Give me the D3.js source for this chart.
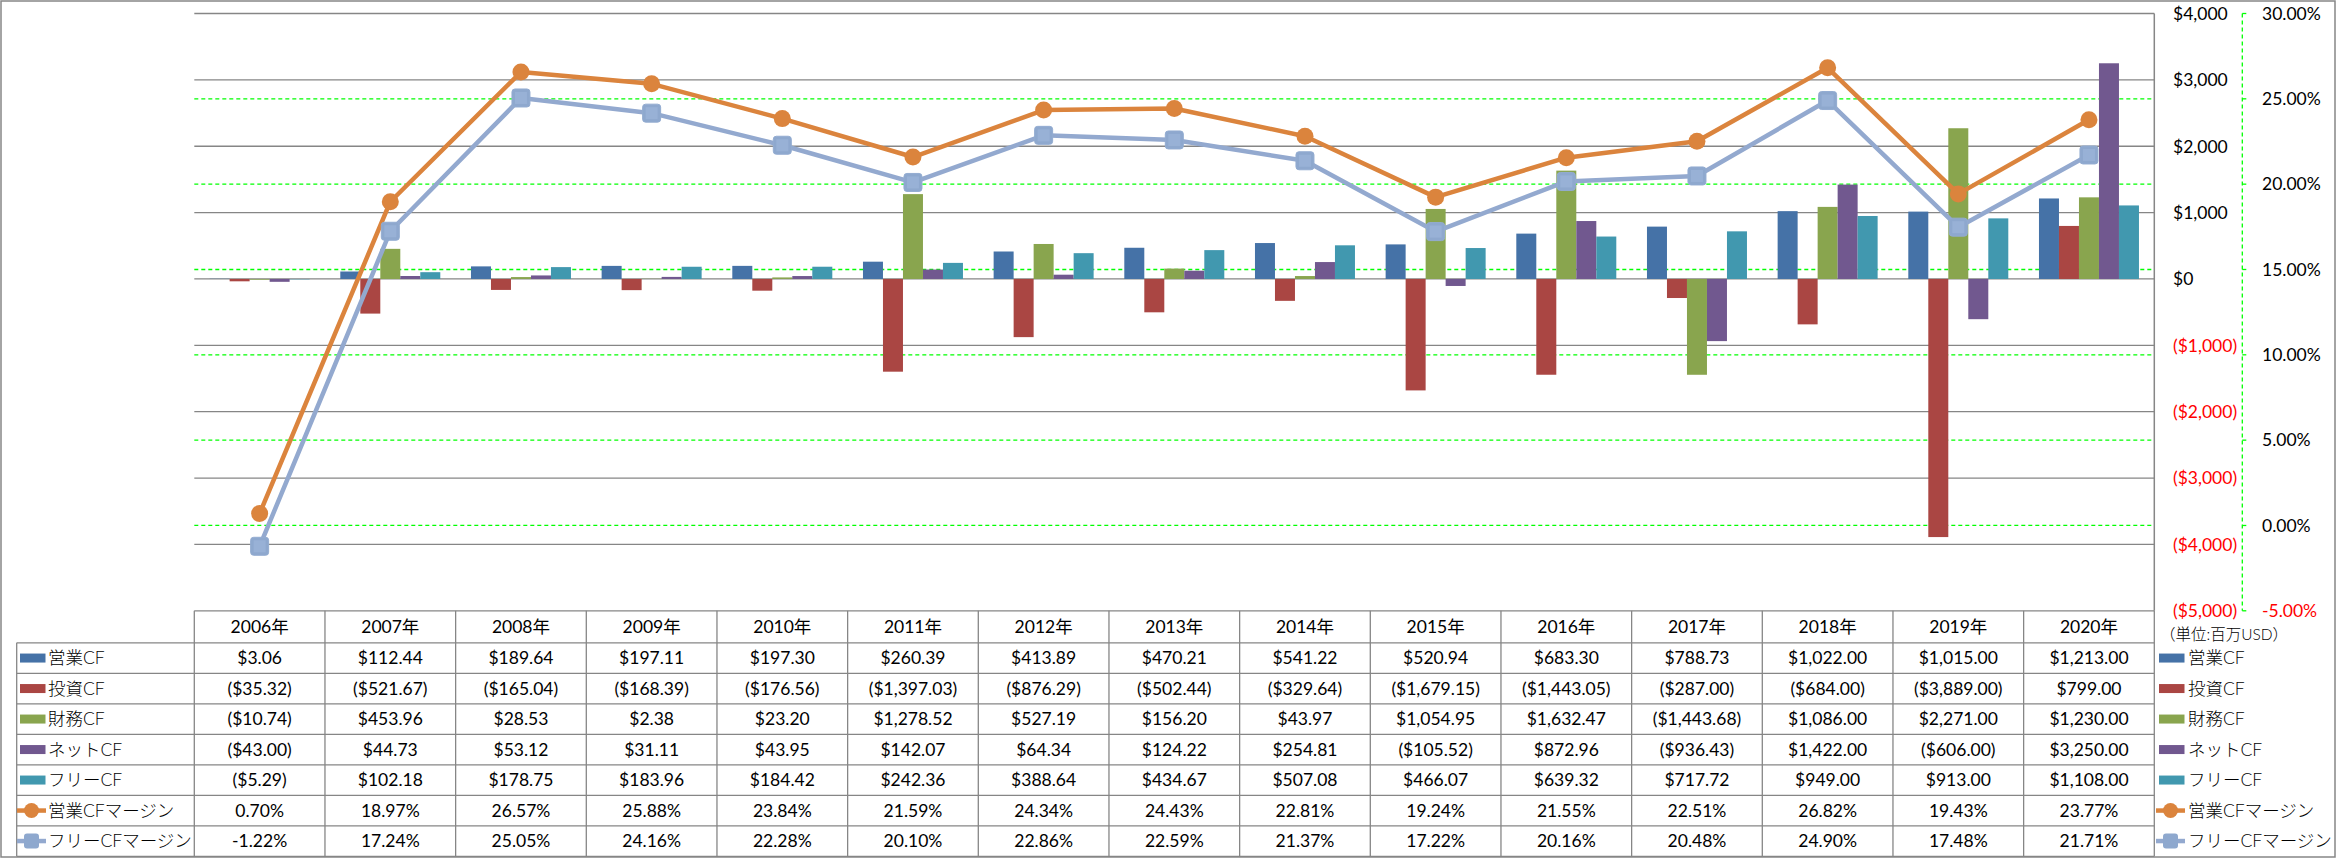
<!DOCTYPE html>
<html><head><meta charset="utf-8">
<script src="https://cdn.jsdelivr.net/npm/d3@7"></script>
<style>
html,body{margin:0;padding:0;background:#fff;}
svg{display:block;}
text{font-family:Lato,"Noto Sans CJK JP",sans-serif;}
</style></head>
<body>
<svg id="c" width="2336" height="858"></svg>
<script>
const years = ["2006年","2007年","2008年","2009年","2010年","2011年","2012年","2013年","2014年","2015年","2016年","2017年","2018年","2019年","2020年"];
const opCF   = [3.06,112.44,189.64,197.11,197.30,260.39,413.89,470.21,541.22,520.94,683.30,788.73,1022.00,1015.00,1213.00];
const invCF  = [-35.32,-521.67,-165.04,-168.39,-176.56,-1397.03,-876.29,-502.44,-329.64,-1679.15,-1443.05,-287.00,-684.00,-3889.00,799.00];
const finCF  = [-10.74,453.96,28.53,2.38,23.20,1278.52,527.19,156.20,43.97,1054.95,1632.47,-1443.68,1086.00,2271.00,1230.00];
const netCF  = [-43.00,44.73,53.12,31.11,43.95,142.07,64.34,124.22,254.81,-105.52,872.96,-936.43,1422.00,-606.00,3250.00];
const freeCF = [-5.29,102.18,178.75,183.96,184.42,242.36,388.64,434.67,507.08,466.07,639.32,717.72,949.00,913.00,1108.00];
const opMargin   = [0.70,18.97,26.57,25.88,23.84,21.59,24.34,24.43,22.81,19.24,21.55,22.51,26.82,19.43,23.77];
const freeMargin = [-1.22,17.24,25.05,24.16,22.28,20.10,22.86,22.59,21.37,17.22,20.16,20.48,24.90,17.48,21.71];
const barNames  = ["営業CF","投資CF","財務CF","ネットCF","フリーCF"];
const lineNames = ["営業CFマージン","フリーCFマージン"];
const dollarTicks = [4000,3000,2000,1000,0,-1000,-2000,-3000,-4000,-5000];
const pctTicks = [30,25,20,15,10,5,0,-5];
const unitLabel = "（単位:百万USD）";

const barSeries = [opCF, invCF, finCF, netCF, freeCF];
const barColors = ["#4572A7","#AA4643","#89A54E","#71588F","#4198AF"];
const lineSeries = [opMargin, freeMargin];
const lineColors = ["#DB843D","#93A9CF"];

const loc = d3.formatLocale({decimal:".", thousands:",", grouping:[3], currency:["$",""], minus:"-"});

const svg = d3.select("#c");
const L = 194.3, R = 2154.3, T = 13.5, B = 610.8;
const x = d3.scaleBand().domain(years).range([L, R]).padding(0);
const bw = x.bandwidth();
const groupW = bw * 100 / 130.67;
const xi = d3.scaleBand().domain(d3.range(5)).range([0, groupW]).padding(0);
const y = d3.scaleLinear().domain([-5000, 4000]).range([B, T]);
const yp = d3.scaleLinear().domain([-5, 30]).range([B, T]);

const grid = "#868686";
svg.append("rect").attr("x",1).attr("y",1).attr("width",2334).attr("height",856)
  .attr("fill","none").attr("stroke",grid).attr("stroke-width",1.5);

svg.append("g").selectAll("line").data(dollarTicks.filter(d=>d>-5000)).join("line")
  .attr("x1",L).attr("x2",R).attr("y1",d=>y(d)).attr("y2",d=>y(d))
  .attr("stroke",grid).attr("stroke-width",1.3);
svg.append("g").selectAll("line").data(pctTicks.filter(d=>d>-5 && d<30)).join("line")
  .attr("x1",L).attr("x2",R).attr("y1",d=>yp(d)).attr("y2",d=>yp(d))
  .attr("stroke","#00FF00").attr("stroke-width",1.3).attr("stroke-dasharray","4,3");

const gb = svg.append("g");
barSeries.forEach((s,i)=>{
  gb.append("g").selectAll("rect").data(s).join("rect")
    .attr("x",(d,j)=>x(years[j]) + (bw-groupW)/2 + xi(i))
    .attr("width",xi.bandwidth())
    .attr("y",d=>Math.min(y(d),y(0)))
    .attr("height",d=>Math.abs(y(d)-y(0)))
    .attr("fill",barColors[i]);
});

svg.append("line").attr("x1",R).attr("x2",R).attr("y1",T).attr("y2",B)
  .attr("stroke",grid).attr("stroke-width",1.5);

const fmtD = loc.format(",");
svg.append("g").selectAll("text").data(dollarTicks).join("text")
  .attr("x",2173).attr("y",d=>y(d)).attr("dy","0.36em")
  .attr("font-size",17.5)
  .attr("fill",d=>d<0?"#FF0000":"#000")
  .text(d=>d<0?`($${fmtD(-d)})`:`$${fmtD(d)}`);

const AX2 = 2242.3;
svg.append("line").attr("x1",AX2).attr("x2",AX2).attr("y1",T).attr("y2",B)
  .attr("stroke","#00FF00").attr("stroke-width",1.3).attr("stroke-dasharray","4,3");
svg.append("g").selectAll("line").data(pctTicks).join("line")
  .attr("x1",AX2).attr("x2",AX2+4).attr("y1",d=>yp(d)).attr("y2",d=>yp(d))
  .attr("stroke","#00FF00").attr("stroke-width",1.3);
const fmtP = loc.format(".2f");
svg.append("g").selectAll("text").data(pctTicks).join("text")
  .attr("x",2262).attr("y",d=>yp(d)).attr("dy","0.36em")
  .attr("font-size",17.5)
  .attr("fill",d=>d<0?"#FF0000":"#000")
  .text(d=>fmtP(d)+"%");

const cx = j => x(years[j]) + bw/2;
lineSeries.forEach((s,i)=>{
  const g = svg.append("g");
  g.append("path").datum(s)
    .attr("d",d3.line().x((d,j)=>cx(j)).y(d=>yp(d)))
    .attr("fill","none").attr("stroke",lineColors[i]).attr("stroke-width",4.5)
    .attr("stroke-linejoin","round");
  if(i===0){
    g.selectAll("circle").data(s).join("circle")
      .attr("cx",(d,j)=>cx(j)).attr("cy",d=>yp(d)).attr("r",8.5)
      .attr("fill","#DB843D");
  } else {
    g.selectAll("rect").data(s).join("rect")
      .attr("x",(d,j)=>cx(j)-9).attr("y",d=>yp(d)-9).attr("width",18).attr("height",18)
      .attr("rx",3).attr("fill","#8EA8CE").attr("stroke","#93ACD1").attr("stroke-width",1);
    g.selectAll("rect.in").data(s).join("rect").attr("class","in")
      .attr("x",(d,j)=>cx(j)-6).attr("y",d=>yp(d)-6).attr("width",12).attr("height",12)
      .attr("fill","#98B1D6");
  }
});

// data table
const tTop = B, hH = 32, rowH = 30.5, tLeft = 16.7;
const rowsTop = tTop + hH;
const nRows = 7;
const tg = svg.append("g");
tg.append("line").attr("x1",L).attr("x2",R).attr("y1",tTop).attr("y2",tTop)
  .attr("stroke",grid).attr("stroke-width",1.3);
d3.range(nRows+1).forEach(k=>{
  tg.append("line").attr("x1",tLeft).attr("x2",R)
    .attr("y1",rowsTop+k*rowH).attr("y2",rowsTop+k*rowH)
    .attr("stroke",grid).attr("stroke-width",1.3);
});
tg.append("line").attr("x1",tLeft).attr("x2",tLeft).attr("y1",rowsTop).attr("y2",rowsTop+nRows*rowH)
  .attr("stroke",grid).attr("stroke-width",1.3);
tg.selectAll("line.v").data(d3.range(years.length+1)).join("line").attr("class","v")
  .attr("x1",k=>L+k*bw).attr("x2",k=>L+k*bw).attr("y1",tTop).attr("y2",rowsTop+nRows*rowH)
  .attr("stroke",grid).attr("stroke-width",1.3);
tg.selectAll("text.h").data(years).join("text").attr("class","h")
  .attr("x",d=>x(d)+bw/2).attr("y",tTop+hH/2).attr("dy","0.36em")
  .attr("text-anchor","middle").attr("font-size",17.5).attr("fill","#000").text(d=>d);

const fmtMoney = v => { const s = "$" + loc.format(",.2f")(Math.abs(v)); return v<0 ? "("+s+")" : s; };
const fmtPct = v => loc.format(".2f")(v) + "%";
const allRows = barSeries.map(s=>s.map(fmtMoney)).concat(lineSeries.map(s=>s.map(fmtPct)));
allRows.forEach((r,ri)=>{
  tg.append("g").selectAll("text").data(r).join("text")
    .attr("x",(d,j)=>cx(j)).attr("y",rowsTop+ri*rowH+rowH/2).attr("dy","0.36em")
    .attr("text-anchor","middle").attr("font-size",17.5).attr("fill","#000").text(d=>d);
});

const names = barNames.concat(lineNames);
function drawKey(g, i, x0, yc){
  if(i<5){
    g.append("rect").attr("x",x0+3).attr("y",yc-4.5).attr("width",25.5).attr("height",9)
      .attr("fill",barColors[i]);
  } else {
    const li = i-5;
    g.append("line").attr("x1",x0).attr("x2",x0+29).attr("y1",yc).attr("y2",yc)
      .attr("stroke",lineColors[li]).attr("stroke-width",4.5);
    if(li===0){
      g.append("circle").attr("cx",x0+14.5).attr("cy",yc).attr("r",7.5).attr("fill","#DB843D");
    } else {
      g.append("rect").attr("x",x0+7).attr("y",yc-7.5).attr("width",15).attr("height",15)
        .attr("rx",3).attr("fill","#8EA8CE");
    }
  }
}
const lg = svg.append("g");
names.forEach((n,i)=>{
  const yc = rowsTop + i*rowH + rowH/2;
  drawKey(lg, i, 17, yc);
  lg.append("text").attr("x",48).attr("y",yc).attr("dy","0.36em")
    .attr("font-family","'Noto Sans CJK JP',sans-serif").attr("font-weight",300)
    .attr("font-size",17.5).attr("fill","#000").text(n);
  drawKey(lg, i, 2156, yc);
  lg.append("text").attr("x",2188).attr("y",yc).attr("dy","0.36em")
    .attr("font-family","'Noto Sans CJK JP',sans-serif").attr("font-weight",300)
    .attr("font-size",17.5).attr("fill","#000").text(n);
});
lg.append("text").attr("x",2160).attr("y",634).attr("dy","0.36em")
  .attr("font-family","'Noto Sans CJK JP',sans-serif").attr("font-weight",300)
  .attr("font-size",15.5).attr("fill","#000").text(unitLabel);
</script>
</body></html>
